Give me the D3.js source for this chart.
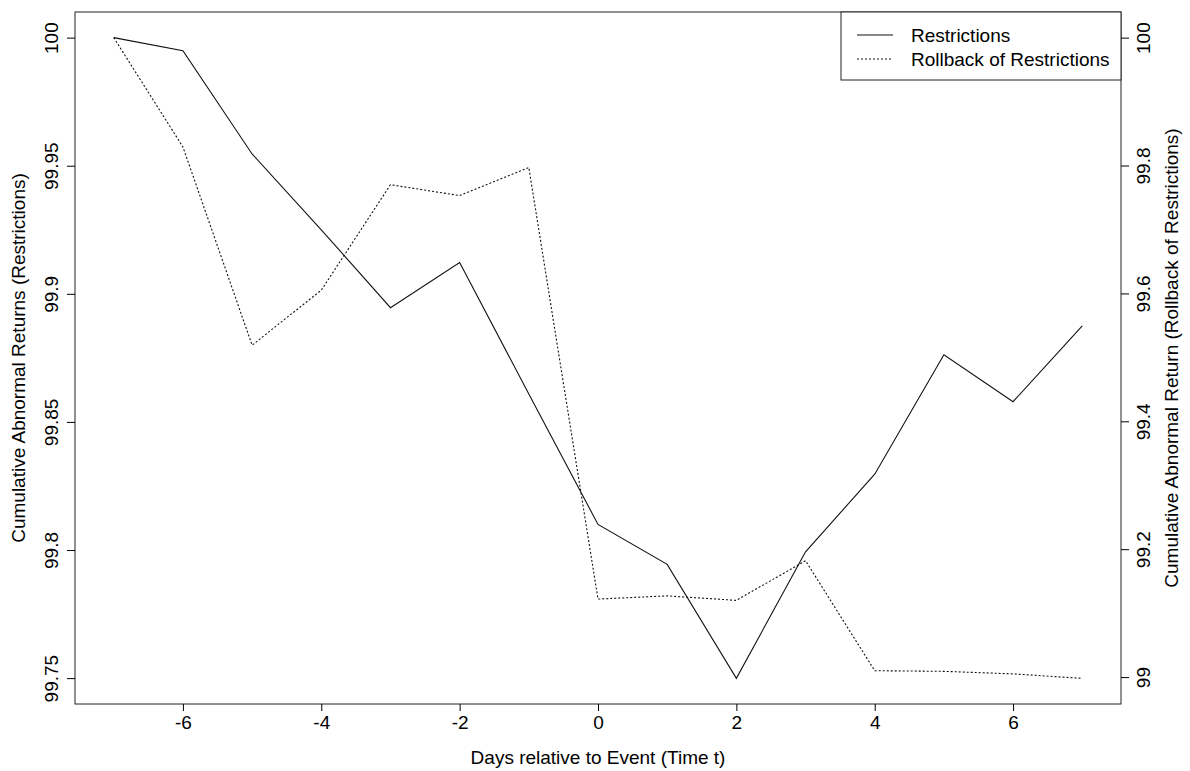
<!DOCTYPE html>
<html>
<head>
<meta charset="utf-8">
<script src="https://cdn.jsdelivr.net/npm/d3@7"></script>
<style>
  body { margin: 0; background: #fff; }
  text { font-family: "Liberation Sans", Arial, sans-serif; fill: #000; }
</style>
</head>
<body>
<div id="chart"></div>
<script>
const days = [-7, -6, -5, -4, -3, -2, -1, 0, 1, 2, 3, 4, 5, 6, 7]
const restrictions = [100, 99.9949, 99.9546, 99.925, 99.8946, 99.9122, 99.8609, 99.81, 99.7944, 99.7499, 99.7993, 99.8296, 99.8762, 99.8579, 99.8875]
const rollback = [100, 99.829, 99.519, 99.605, 99.77, 99.753, 99.797, 99.122, 99.127, 99.12, 99.182, 99.01, 99.009, 99.005, 98.998]
const xTicks = [-6, -4, -2, 0, 2, 4, 6]
const leftTicks = [99.75, 99.8, 99.85, 99.9, 99.95, 100]
const rightTicks = [99, 99.2, 99.4, 99.6, 99.8, 100]

const W = 1190, H = 771
const box = { left: 75, right: 1121, top: 12, bottom: 704 }
const fontSize = 19

const svg = d3.select("#chart").append("svg")
  .attr("width", W)
  .attr("height", H)

// R style: extend the data range by 4% on each side
function pad(ext) {
  const r = ext[1] - ext[0]
  return [ext[0] - 0.04 * r, ext[1] + 0.04 * r]
}

const x = d3.scaleLinear().domain(pad(d3.extent(days))).range([box.left, box.right])
const yL = d3.scaleLinear().domain(pad(d3.extent(restrictions))).range([box.bottom, box.top])
const yR = d3.scaleLinear().domain(pad(d3.extent(rollback))).range([box.bottom, box.top])

// plot frame
svg.append("rect")
  .attr("x", box.left).attr("y", box.top)
  .attr("width", box.right - box.left).attr("height", box.bottom - box.top)
  .attr("fill", "none").attr("stroke", "#222").attr("stroke-width", 1)

// x axis (plain hyphen for negatives, like R)
const xAxis = svg.append("g")
  .attr("transform", "translate(0," + box.bottom + ")")
  .call(d3.axisBottom(x).tickValues(xTicks).tickSize(7).tickPadding(5).tickFormat(d => String(d)))
xAxis.select(".domain").remove()
xAxis.selectAll("text").attr("font-size", fontSize).attr("font-family", "Liberation Sans, Arial, sans-serif")

// left axis, labels parallel to axis
const leftAxis = svg.append("g")
  .attr("transform", "translate(" + box.left + ",0)")
  .call(d3.axisLeft(yL).tickValues(leftTicks).tickSize(8).tickFormat(d => String(+d.toFixed(2))))
leftAxis.select(".domain").remove()
leftAxis.selectAll("text")
  .attr("font-size", fontSize).attr("font-family", "Liberation Sans, Arial, sans-serif")
  .attr("text-anchor", "middle")
  .attr("transform", "translate(-24,0) rotate(-90)")
  .attr("x", 0).attr("y", 0)
  .attr("dy", "0.35em")

// right axis
const rightAxis = svg.append("g")
  .attr("transform", "translate(" + box.right + ",0)")
  .call(d3.axisRight(yR).tickValues(rightTicks).tickSize(8).tickFormat(d => String(+d.toFixed(1))))
rightAxis.select(".domain").remove()
rightAxis.selectAll("text")
  .attr("font-size", fontSize).attr("font-family", "Liberation Sans, Arial, sans-serif")
  .attr("text-anchor", "middle")
  .attr("transform", "translate(22,0) rotate(-90)")
  .attr("x", 0).attr("y", 0)
  .attr("dy", "0.35em")

// axis titles
svg.append("text")
  .attr("x", (box.left + box.right) / 2).attr("y", 764)
  .attr("text-anchor", "middle").attr("font-size", fontSize)
  .text("Days relative to Event (Time t)")

svg.append("text")
  .attr("transform", "translate(25," + (box.top + box.bottom) / 2 + ") rotate(-90)")
  .attr("text-anchor", "middle").attr("font-size", fontSize)
  .text("Cumulative Abnormal Returns (Restrictions)")

svg.append("text")
  .attr("transform", "translate(1178," + (box.top + box.bottom) / 2 + ") rotate(-90)")
  .attr("text-anchor", "middle").attr("font-size", fontSize)
  .text("Cumulative Abnormal Return (Rollback of Restrictions)")

// lines
const lineL = d3.line().x((d, i) => x(days[i])).y(d => yL(d))
const lineR = d3.line().x((d, i) => x(days[i])).y(d => yR(d))

svg.append("path")
  .datum(restrictions)
  .attr("d", lineL)
  .attr("fill", "none").attr("stroke", "#111").attr("stroke-width", 1.1)

svg.append("path")
  .datum(rollback)
  .attr("d", lineR)
  .attr("fill", "none").attr("stroke", "#111").attr("stroke-width", 1.1)
  .attr("stroke-dasharray", "2,2")

// legend
const legend = svg.append("g")
legend.append("rect")
  .attr("x", 841).attr("y", box.top)
  .attr("width", box.right - 841).attr("height", 68)
  .attr("fill", "#fff").attr("stroke", "#222").attr("stroke-width", 1)

const legendItems = ["Restrictions", "Rollback of Restrictions"]
const legendDash = [null, "2,2"]
legendItems.forEach((name, i) => {
  const ly = 35 + i * 24
  legend.append("line")
    .attr("x1", 857).attr("x2", 893).attr("y1", ly).attr("y2", ly)
    .attr("stroke", "#111").attr("stroke-width", 1.1)
    .attr("stroke-dasharray", legendDash[i])
  legend.append("text")
    .attr("x", 911).attr("y", ly).attr("dy", "0.35em")
    .attr("font-size", fontSize)
    .text(name)
})
</script>
</body>
</html>
